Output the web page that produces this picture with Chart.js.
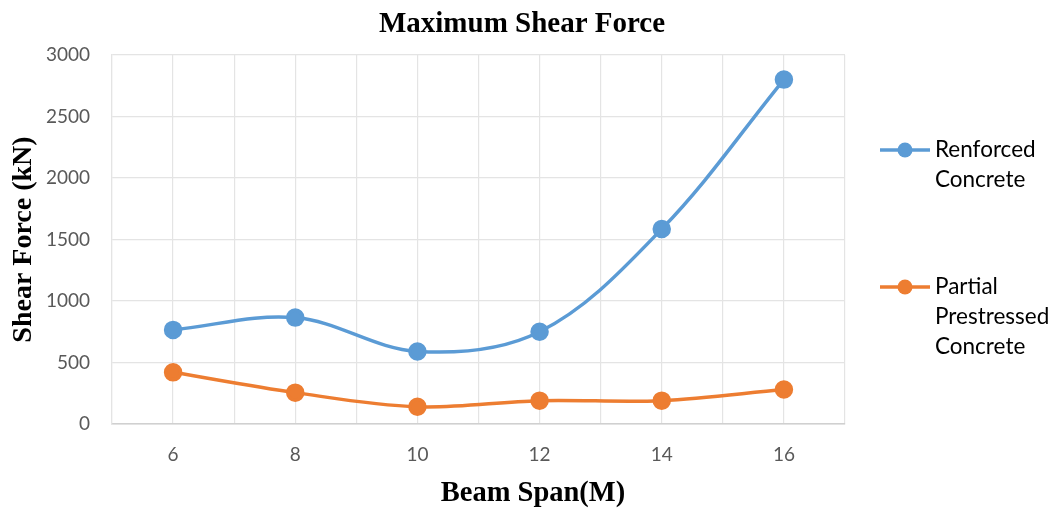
<!DOCTYPE html>
<html>
<head>
<meta charset="utf-8">
<script src="https://cdn.jsdelivr.net/npm/chart.js@4/dist/chart.umd.min.js"></script>
<style>
  html, body { margin: 0; padding: 0; background: #fff; }
  #wrap { width: 1058px; height: 510px; position: relative; }
</style>
</head>
<body>
<div id="wrap"><canvas id="chart"></canvas></div>
<script>
// data
const spans = [6, 8, 10, 12, 14, 16];
const reinforced = [765, 865, 590, 750, 1585, 2800];
const partial = [420, 255, 140, 190, 190, 280];
const seriesNames = [['Renforced', 'Concrete'], ['Partial', 'Prestressed', 'Concrete']];
const seriesColors = ['#5B9BD5', '#ED7D31'];
const chartTitle = 'Maximum Shear Force';
const xTitle = 'Beam Span(M)';
const yTitle = 'Shear Force (kN)';

const tickFont = { family: 'Lato', size: 19 };
const serifBold = '"Liberation Serif", "Times New Roman", serif';

// title, x title and the multi-line legend on the right
const textPlugin = {
  id: 'textPlugin',
  afterDraw(chart) {
    const ctx = chart.ctx;
    ctx.save();
    ctx.fillStyle = '#000';
    ctx.textAlign = 'center';
    ctx.textBaseline = 'middle';
    ctx.font = 'bold 29px ' + serifBold;
    ctx.fillText(chartTitle, 522, 25);
    ctx.font = 'bold 28.5px ' + serifBold;
    ctx.fillText(xTitle, 533, 494);

    const legendY = [150, 287];
    chart.data.datasets.forEach((ds, i) => {
      const y = legendY[i];
      ctx.strokeStyle = ds.borderColor;
      ctx.lineWidth = 3.5;
      ctx.beginPath();
      ctx.moveTo(880, y);
      ctx.lineTo(930, y);
      ctx.stroke();
      ctx.fillStyle = ds.backgroundColor;
      ctx.beginPath();
      ctx.arc(905, y, 7.5, 0, Math.PI * 2);
      ctx.fill();
      ctx.fillStyle = '#000';
      ctx.textAlign = 'left';
      ctx.font = '22.5px Lato';
      seriesNames[i].forEach((line, j) => {
        ctx.fillText(line, 935, y + j * 30);
      });
    });
    ctx.restore();
  }
};

const makeData = vals => spans.map((x, i) => ({ x: x, y: vals[i] }));

new Chart(document.getElementById('chart'), {
  type: 'line',
  data: {
    datasets: [
      {
        label: seriesNames[0].join(' '),
        data: makeData(reinforced),
        borderColor: seriesColors[0],
        backgroundColor: seriesColors[0],
        borderWidth: 3.5,
        pointRadius: 7.5,
        pointHoverRadius: 7.5,
        tension: 0.35
      },
      {
        label: seriesNames[1].join(' '),
        data: makeData(partial),
        borderColor: seriesColors[1],
        backgroundColor: seriesColors[1],
        borderWidth: 3.5,
        pointRadius: 7.5,
        pointHoverRadius: 7.5,
        tension: 0.35
      }
    ]
  },
  options: {
    responsive: true,
    maintainAspectRatio: false,
    animation: false,
    layout: { padding: { top: 55, right: 213, left: 0, bottom: 0 } },
    plugins: {
      legend: { display: false },
      title: { display: false },
      tooltip: { enabled: false }
    },
    scales: {
      x: {
        type: 'linear',
        min: 5,
        max: 17,
        afterFit: s => { s.height = 86; },
        border: { color: '#d0d0d0', width: 1.5 },
        grid: { color: '#e4e4e4', lineWidth: 1.2, drawTicks: false },
        ticks: {
          stepSize: 1,
          autoSkip: false,
          maxRotation: 0,
          padding: 19,
          color: '#595959',
          font: tickFont,
          callback: v => spans.includes(v) ? String(v) : ''
        }
      },
      y: {
        min: 0,
        max: 3000,
        afterFit: s => { s.width = 112; },
        border: { color: '#e4e4e4', width: 1.2 },
        grid: { color: '#e4e4e4', lineWidth: 1.2, drawTicks: false },
        ticks: {
          stepSize: 500,
          padding: 22,
          color: '#595959',
          font: tickFont,
          callback: v => String(v)
        },
        title: {
          display: true,
          text: yTitle,
          color: '#000',
          font: { family: serifBold, size: 28, weight: 'bold', lineHeight: 1.2 },
          padding: { top: 7 }
        }
      }
    }
  },
  plugins: [textPlugin]
});
</script>
</body>
</html>
